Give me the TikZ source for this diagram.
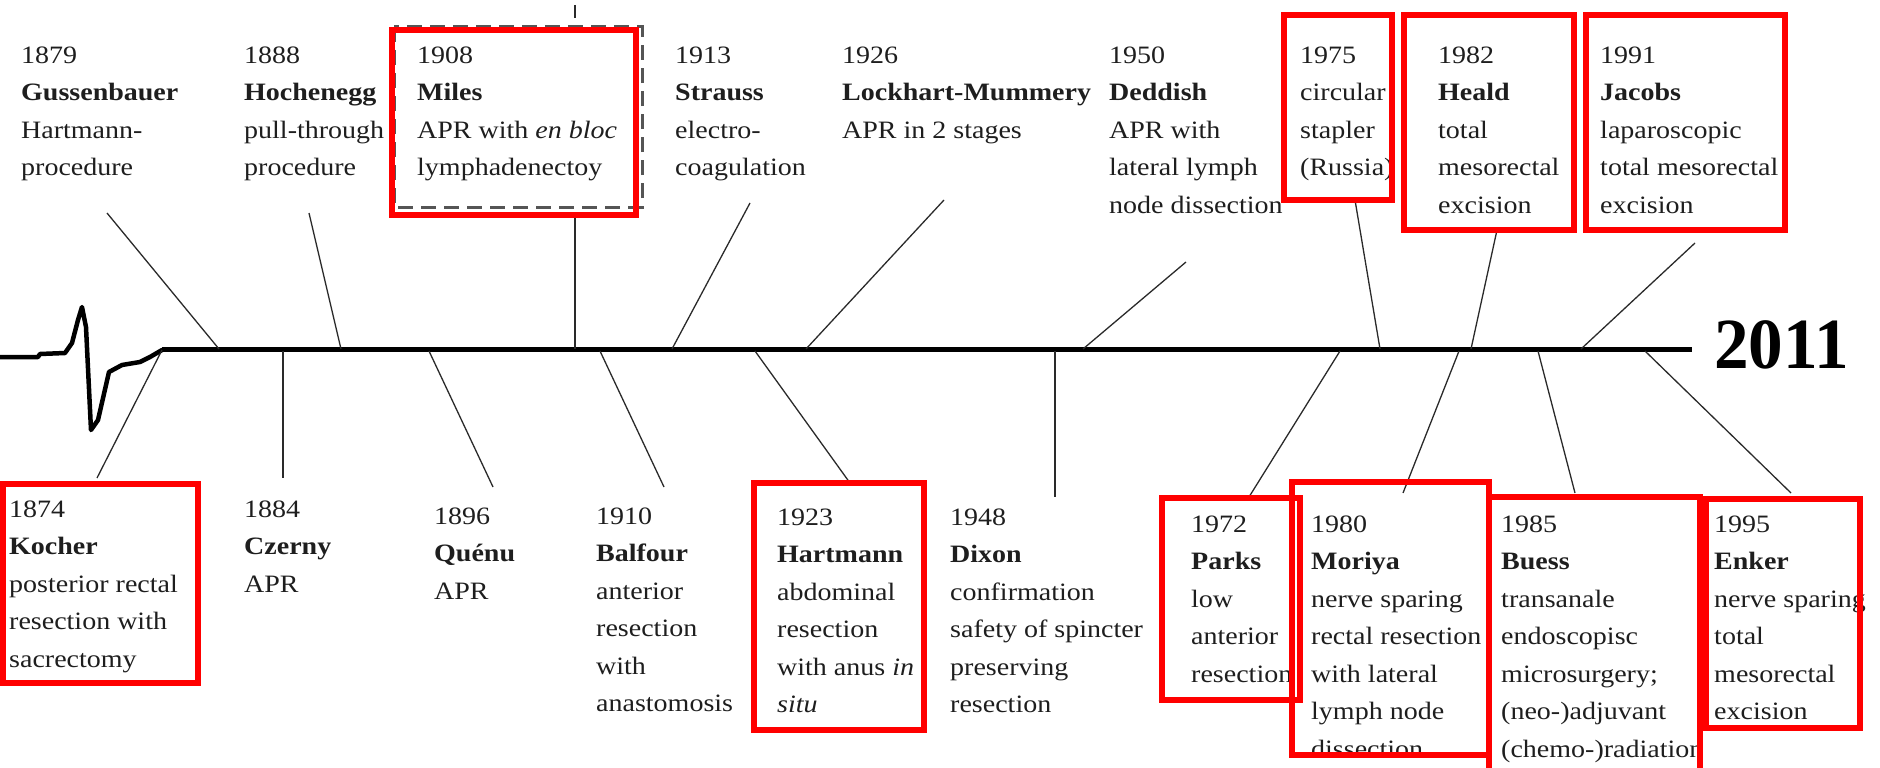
\documentclass[tikz,border=0pt]{standalone}
\usepackage{fontspec}
\setmainfont{Liberation Serif}[FakeStretch=1.12]
\newfontfamily\endyearfont{Liberation Serif}[FakeStretch=0.96]
\definecolor{txt}{HTML}{1E1E1E}
\definecolor{hired}{HTML}{FF0000}
\definecolor{linegray}{HTML}{2A2A2A}
\definecolor{dashgray}{HTML}{555555}
\begin{document}
\begin{tikzpicture}[x=1pt,y=-1pt,
  % a label is placed by the baseline of its first line (the year)
  lbl/.style={anchor=north west, align=left, inner sep=0pt, yshift=16.6pt,
    font=\fontsize{25}{37.5}\selectfont, text=txt},
  branch/.style={draw=linegray, line width=1.3pt},
  spine/.style={draw=black, line width=5pt},
  hilite/.style={draw=hired, line width=6pt},
  milesframe/.style={draw=dashgray, line width=3pt, dash pattern=on 15pt off 8pt}
]
\useasboundingbox (0,0) rectangle (1880,768);

% ---- the time axis with its irregular start ----
\draw[line width=4.5pt, line join=round, line cap=round]
  (0,357) -- (38,357) -- (40,354) -- (65,353) -- (72,343) -- (78,320)
  -- (82,307) -- (86,327) -- (91,430) -- (98,420) -- (109,372) -- (122,365)
  -- (140,362) -- (150,357) -- (162,350);
\coordinate (axisstart) at (162,349);
\coordinate (axisend) at (1692,349);
\draw[spine] (axisstart) -- (axisend);
\node[anchor=west, inner sep=0pt, font=\endyearfont\bfseries\fontsize{72}{72}\selectfont, text=black]
  (y2011) at (1714,345) {2011};

% ---- attachment points on the axis ----
\coordinate (a1874) at (162,350);
\coordinate (a1879) at (219,349);
\coordinate (a1884) at (283,351);
\coordinate (a1888) at (341,349);
\coordinate (a1896) at (429,351);
\coordinate (a1908) at (575,349);
\coordinate (a1910) at (600,351);
\coordinate (a1913) at (672,349);
\coordinate (a1923) at (755,351);
\coordinate (a1926) at (806,349);
\coordinate (a1948) at (1055,351);
\coordinate (a1950) at (1083,349);
\coordinate (a1972) at (1340,351);
\coordinate (a1975) at (1380,349);
\coordinate (a1980) at (1459,351);
\coordinate (a1982) at (1471,349);
\coordinate (a1985) at (1538,351);
\coordinate (a1991) at (1581,349);
\coordinate (a1995) at (1645,351);

% ---- free ends of the branches ----
\coordinate (e1874) at (97,478);
\coordinate (e1879) at (107,213);
\coordinate (e1884) at (283,478);
\coordinate (e1888) at (309,213);
\coordinate (e1896) at (493,487);
\coordinate (e1908) at (575,217);
\coordinate (e1910) at (664,487);
\coordinate (e1913) at (750,203);
\coordinate (e1923) at (850,483);
\coordinate (e1926) at (944,200);
\coordinate (e1948) at (1055,497);
\coordinate (e1950) at (1186,262);
\coordinate (e1972) at (1249,497);
\coordinate (e1975) at (1355,200);
\coordinate (e1980) at (1403,493);
\coordinate (e1982) at (1497,230);
\coordinate (e1985) at (1575,493);
\coordinate (e1991) at (1695,243);
\coordinate (e1995) at (1791,493);

\foreach \yr in {1874,1879,1884,1888,1896,1908,1910,1913,1923,1926,1948,1950,1972,1975,1980,1982,1985,1991,1995}
  \draw[branch] (a\yr) -- (e\yr);

% short mark above the Miles frame
\coordinate (mtop) at (575,5);
\coordinate (mbot) at (575,18);
\draw[branch] (mtop) -- (mbot);

% ---- milestones above the axis ----
\node[lbl] (g1879) at (21,63) {1879\\\textbf{Gussenbauer}\\Hartmann-\\procedure};
\node[lbl] (g1888) at (244,63) {1888\\\textbf{Hochenegg}\\pull-through\\procedure};
\node[lbl] (g1908) at (417,63) {1908\\\textbf{Miles}\\APR with \textit{en bloc}\\lymphadenectoy};
\node[lbl] (g1913) at (675,63) {1913\\\textbf{Strauss}\\electro-\\coagulation};
\node[lbl] (g1926) at (842,63) {1926\\\textbf{Lockhart-Mummery}\\APR in 2 stages};
\node[lbl] (g1950) at (1109,63) {1950\\\textbf{Deddish}\\APR with\\lateral lymph\\node dissection};
\node[lbl] (g1975) at (1300,63) {1975\\circular\\stapler\\(Russia)};
\node[lbl] (g1982) at (1438,63) {1982\\\textbf{Heald}\\total\\mesorectal\\excision};
\node[lbl] (g1991) at (1600,63) {1991\\\textbf{Jacobs}\\laparoscopic\\total mesorectal\\excision};

% ---- milestones below the axis ----
\node[lbl] (g1874) at (9,517) {1874\\\textbf{Kocher}\\posterior rectal\\resection with\\sacrectomy};
\node[lbl] (g1884) at (244,517) {1884\\\textbf{Czerny}\\APR};
\node[lbl] (g1896) at (434,524) {1896\\\textbf{Quénu}\\APR};
\node[lbl] (g1910) at (596,524) {1910\\\textbf{Balfour}\\anterior\\resection\\with\\anastomosis};
\node[lbl] (g1923) at (777,525) {1923\\\textbf{Hartmann}\\abdominal\\resection\\with anus \textit{in}\\\textit{situ}};
\node[lbl] (g1948) at (950,525) {1948\\\textbf{Dixon}\\confirmation\\safety of spincter\\preserving\\resection};
\node[lbl] (g1972) at (1191,532) {1972\\\textbf{Parks}\\low\\anterior\\resection};
\node[lbl] (g1980) at (1311,532) {1980\\\textbf{Moriya}\\nerve sparing\\rectal resection\\with lateral\\lymph node\\dissection};
\node[lbl] (g1985) at (1501,532) {1985\\\textbf{Buess}\\transanale\\endoscopisc\\microsurgery;\\(neo-)adjuvant\\(chemo-)radiation};
\node[lbl] (g1995) at (1714,532) {1995\\\textbf{Enker}\\nerve sparing\\total\\mesorectal\\excision};

% ---- frames ----
\draw[milesframe] (394,27) rectangle (642,207);
\draw[hilite] (392,30) rectangle (636,215);
\draw[hilite] (1284,15) rectangle (1392,200);
\draw[hilite] (1404,15) rectangle (1574,230);
\draw[hilite] (1586,15) rectangle (1785,230);
\draw[hilite] (3,484) rectangle (198,683);
\draw[hilite] (754,483) rectangle (924,730);
\draw[hilite] (1162,498) rectangle (1300,700);
\draw[hilite] (1292,482) rectangle (1489,755);
\draw[hilite] (1489,497) rectangle (1700,790);
\draw[hilite] (1706,499) rectangle (1860,728);
\end{tikzpicture}
\end{document}
